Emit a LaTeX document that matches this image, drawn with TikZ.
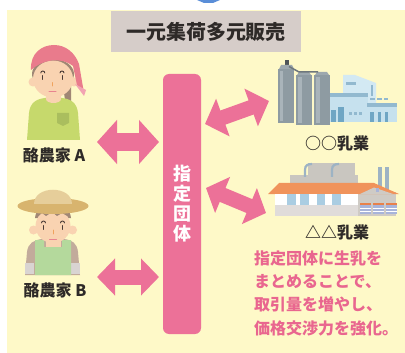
\documentclass[tikz,border=0pt]{standalone}
\usepackage{fontspec}
\setmainfont{Noto Sans CJK JP}
\usetikzlibrary{arrows.meta}

\definecolor{paper}{HTML}{FEF9C8}
\definecolor{titlegray}{HTML}{D6CDC9}
\definecolor{ink}{HTML}{2E2A28}
\definecolor{rose}{HTML}{EC7198}
\definecolor{rosetext}{HTML}{E9668F}
\definecolor{topblue}{HTML}{5A8ED8}
\definecolor{skin}{HTML}{F9D3B1}
\definecolor{hair}{HTML}{A08775}
\definecolor{bandana}{HTML}{E97B8C}
\definecolor{bandanalight}{HTML}{F2A3B2}
\definecolor{shirt}{HTML}{C6D96C}
\definecolor{pocket}{HTML}{AABE5E}
\definecolor{eyeink}{HTML}{4A3A35}
\definecolor{nose}{HTML}{F0A35E}
\definecolor{mouth}{HTML}{E8838F}
\definecolor{hatbrim}{HTML}{D8B46E}
\definecolor{hatcrown}{HTML}{E6CE9A}
\definecolor{sleeve}{HTML}{C2AB9B}
\definecolor{cuff}{HTML}{D9D4D2}
\definecolor{apron}{HTML}{B4D99C}
\definecolor{silo}{HTML}{8E9BA2}
\definecolor{silolight}{HTML}{A9B4BA}
\definecolor{silocap}{HTML}{9DA8AE}
\definecolor{silodark}{HTML}{4E5458}
\definecolor{pipegray}{HTML}{6E777C}
\definecolor{plantblue}{HTML}{C6E1EE}
\definecolor{plantlight}{HTML}{D3E9F3}
\definecolor{plantband}{HTML}{92B9CF}
\definecolor{plantdoor}{HTML}{6FA6C4}
\definecolor{backgray}{HTML}{C9C6C0}
\definecolor{pipeblue}{HTML}{9DB3C4}
\definecolor{roof}{HTML}{F0935B}
\definecolor{roofdark}{HTML}{E8814A}
\definecolor{winblue}{HTML}{AACDE2}
\definecolor{basegray}{HTML}{E0DCDA}
\definecolor{wallgray}{HTML}{CFCBC5}
\definecolor{shutter}{HTML}{A8B4DA}

\tikzset{
  titlebox/.style={fill=titlegray, minimum width=190pt, minimum height=41pt,
    inner sep=0pt, text=ink, font=\fontsize{20}{22}\selectfont\bfseries},
  column/.style={fill=rose, rounded corners=6pt, minimum width=38pt,
    minimum height=260pt, inner sep=0pt, text=white, align=center,
    font=\fontsize{18}{20}\selectfont\bfseries},
  namelabel/.style={text=ink, inner sep=0pt,
    font=\fontsize{16}{18}\selectfont\bfseries},
  note/.style={text=rosetext, inner sep=0pt, align=left,
    font=\fontsize{16}{23.3}\selectfont\bfseries},
  figbox/.style={minimum width=#1, inner sep=0pt},
  dblarrow/.style n args={3}{draw=rose, line width=#1,
    {Triangle[length=#2,width=#3]}-{Triangle[length=#2,width=#3]}},
  eyeline/.style={draw=eyeink, line width=0.9pt, line cap=round},
}

\begin{document}
\begin{tikzpicture}[x=1pt,y=-1pt]
\useasboundingbox (0,0) rectangle (405,353);
\fill[paper] (7,10) rectangle (405,353);
% tail of the arrow coming from above
\fill[topblue] (197,0) -- (220,0) -- (213,3) -- (204,3) -- cycle;

% heading
\node[titlebox] (title) at (206,31.5) {一元集荷多元販売};

% central body
\node[column] (col) at (182,204) {指\\定\\団\\体};

% ---------- farmer A ----------
\node[figbox=58pt, minimum height=100pt] (farmerA) at (54,94) {};
\begin{scope}
  \fill[hair] (53,74) ellipse (21 and 15);
  \fill[hair] (63,86) -- (71,84) -- (71,101) -- (65,100) -- cycle;
  \fill[shirt] (27,140) -- (29,113) .. controls (30,103) and (36,99) .. (45,98)
    -- (62,98) .. controls (71,99) and (77,103) .. (78,113) -- (80,140) -- cycle;
  \fill[skin] (46,90) rectangle (61,99);
  \fill[skin] (53.5,99) ellipse (7.5 and 4);
  \fill[pocket] (57,113) -- (69,113) -- (69,123) -- (63,126) -- (57,123) -- cycle;
  \fill[skin] (33,82) circle (4.5);
  \fill[skin] (74,82) circle (4.5);
  \fill[skin] (53,79) ellipse (20 and 18.5);
  \fill[bandana] (31,70) .. controls (30,53) and (42,45) .. (54,45)
    .. controls (66,45) and (75,53) .. (79,64) -- (84,93) -- (77,85) -- (73,66)
    .. controls (60,56) and (42,60) .. (31,70) -- cycle;
  \fill[bandanalight] (75,84) -- (86,90) -- (84,96) -- cycle;
  \draw[eyeline] (40.8,73) arc (180:360:2);
  \draw[eyeline] (42.8,75.5) -- (42.8,79.5);
  \draw[eyeline] (60,73) arc (180:360:2);
  \draw[eyeline] (62,75.5) -- (62,79.5);
  \draw[draw=nose, line width=0.9pt, line cap=round] (52.5,82.5) -- (52.5,86);
  \draw[draw=mouth, line width=1pt, line cap=round] (49,92) -- (56,92);
\end{scope}
\node[namelabel] (labelA) at (54,155) {酪農家 A};

% ---------- farmer B ----------
\node[figbox=62pt, minimum height=90pt] (farmerB) at (53,230) {};
\begin{scope}
  \fill[sleeve] (25,275) -- (27,252) .. controls (28,243) and (34,240) .. (42,239)
    -- (64,239) .. controls (72,240) and (77,243) .. (78,252) -- (80,275) -- cycle;
  \fill[cuff] (25.3,263) rectangle (34,274);
  \fill[cuff] (71,263) rectangle (79.7,274);
  \fill[skin] (46,234) rectangle (61,248);
  \fill[apron] (35,275) -- (35,240) -- (44,240) -- (44,247) -- (62,247)
    -- (62,240) -- (71,240) -- (71,275) -- cycle;
  \fill[skin] (33.5,230) circle (4.5);
  \fill[skin] (72.5,230) circle (4.5);
  \fill[hair] (35,218) .. controls (36,208) and (44,204) .. (53,204)
    .. controls (62,204) and (70,208) .. (71,218) -- cycle;
  \fill[skin] (53,226) ellipse (17.5 and 17);
  \fill[hair] (37,217) -- (40,209) -- (66,209) -- (69,217) -- (62,213)
    -- (57,216) -- (52,212) -- (46,216) -- (42,213) -- cycle;
  \fill[hatbrim] (53,206) ellipse (35.5 and 8);
  \fill[hatcrown] (34,204) .. controls (34,185) and (72,185) .. (72,204) -- cycle;
  \draw[eyeline] (41.5,223) arc (180:360:2);
  \draw[eyeline] (43.5,225.5) -- (43.5,229.5);
  \draw[eyeline] (60.5,223) arc (180:360:2);
  \draw[eyeline] (62.5,225.5) -- (62.5,229.5);
  \draw[draw=nose, line width=0.9pt, line cap=round] (53,230) -- (53,234);
  \draw[draw=mouth, line width=1pt, line cap=round] (49.5,239.5) -- (56.5,239.5);
\end{scope}
\node[namelabel] (labelB) at (55,290) {酪農家 B};

% ---------- dairy plant 1 ----------
\node[figbox=120pt, minimum height=64pt] (plant1) at (337,94) {};
\begin{scope}
  % silos
  \fill[silodark] (285,60) rectangle (288.5,66);
  \fill[silocap] (279,69) -- (281,65) -- (292,65) -- (294,69) -- cycle;
  \fill[silo] (277.5,69) rectangle (293.5,123);
  \fill[silolight] (279.5,71) rectangle (283,121);
  \fill[silocap] (297,75) -- (299,72) -- (309,72) -- (311,75) -- cycle;
  \fill[silo] (296,75) rectangle (312,125);
  \fill[silolight] (298,77) rectangle (301.5,123);
  \fill[silocap] (315,75) -- (317,72) -- (327,72) -- (329,75) -- cycle;
  \fill[silo] (314,75) rectangle (330,125);
  \fill[silolight] (316,77) rectangle (319.5,123);
  \draw[pipegray, line width=1.5pt] (289,66.5) -- (299,72) -- (318,72);
  % buildings
  \fill[plantlight] (343,122) -- (343,75) -- (355,75) -- (376,83) -- (376,122) -- cycle;
  \fill[plantband] (346,82) rectangle (356,85);
  \draw[plantband, line width=1.2pt] (372,85) -- (372,96);
  \fill[plantblue] (330,93) rectangle (368,122);
  \fill[plantband] (330,93) rectangle (368,97);
  \fill[plantblue] (367,103) rectangle (397,122);
  \fill[plantband] (367,103) rectangle (397,107);
  \fill[plantband] (370,98) rectangle (375,100.5);
  \fill[plantband] (377,98) rectangle (382,100.5);
  \fill[plantband] (384,98) rectangle (388,100.5);
  \fill[plantdoor] (330.5,110) rectangle (335.5,122);
  \fill[plantdoor] (338,107) rectangle (343.5,122);
  \foreach \xx in {349,354,359}
    \fill[plantband] (\xx,112.5) rectangle (\xx+3.2,115.5);
  \foreach \xx in {370,377.5,384.5}
    \fill[plantdoor] (\xx,112) rectangle (\xx+3.5,122);
\end{scope}
\node[namelabel] (label1) at (337,143) {○○乳業};

% ---------- dairy plant 2 ----------
\node[figbox=130pt, minimum height=54pt] (plant2) at (333,189) {};
\begin{scope}
  \fill[backgray] (308,163) rectangle (355,177);
  \fill[backgray] (290,175) rectangle (358,186);
  \draw[pipeblue, line width=2.2pt] (305,177) -- (305,170)
    .. controls (305,165) and (308,164) .. (312,164);
  \draw[pipeblue, line width=2.2pt] (332,177) -- (332,170)
    .. controls (332,165) and (335,164) .. (339,164);
  \fill[pipeblue] (378,167) rectangle (382,190);
  \fill[pipeblue] (384.5,167) rectangle (388.5,190);
  \fill[wallgray] (358,192) rectangle (396,215.5);
  \fill[roof] (268,194) -- (279,183) -- (374,183) -- (399,194) -- cycle;
  \fill[wallgray] (360,194) -- (374,187.5) -- (393,194) -- cycle;
  \fill[shutter] (375.5,188.5) rectangle (379,191.5);
  \fill[white] (275,194) rectangle (358,205);
  \foreach \xx in {287,300,316.5,332}
    \fill[winblue] (\xx,194) rectangle (\xx+8.5,205);
  \fill[basegray] (275,205) rectangle (358,215.5);
  \foreach \xx in {360,373,386}
  {
    \fill[roofdark] (\xx,203) rectangle (\xx+10.5,205);
    \fill[shutter] (\xx,205) rectangle (\xx+10.5,214);
    \draw[white, line width=0.6pt] (\xx,208) -- (\xx+10.5,208)
      (\xx,211) -- (\xx+10.5,211);
  }
\end{scope}
\node[namelabel] (label2) at (337,232) {△△乳業};

% ---------- flows between farmers, body and plants ----------
\coordinate (portA) at (97,142);
\coordinate (colA) at (159,142);
\coordinate (portB) at (97,277);
\coordinate (colB) at (159,277);
\coordinate (colP1) at (205,124);
\coordinate (portP1) at (269,101);
\coordinate (colP2) at (206,188);
\coordinate (portP2) at (266,213);
\draw[dblarrow={18pt}{20pt}{43pt}] (portA) -- (colA);
\draw[dblarrow={15pt}{18pt}{36pt}] (portB) -- (colB);
\draw[dblarrow={15pt}{19pt}{39pt}] (colP1) -- (portP1);
\draw[dblarrow={15pt}{18pt}{38pt}] (colP2) -- (portP2);

% ---------- note ----------
\node[note, anchor=north west] (note) at (254,250.5)
  {指定団体に生乳を\\まとめることで、\\取引量を増やし、\\価格交渉力を強化。};
\end{tikzpicture}
\end{document}
